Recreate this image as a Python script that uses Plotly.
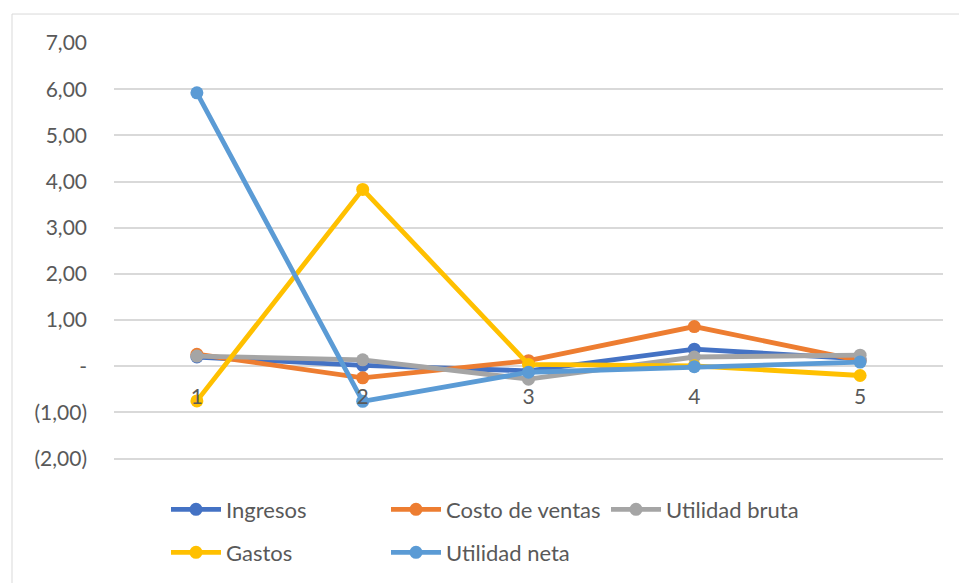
import plotly.graph_objects as go

periods = [1, 2, 3, 4, 5]
period_labels = ["1", "2", "3", "4", "5"]

ingresos = [0.20, 0.02, -0.10, 0.37, 0.16]
costo_ventas = [0.26, -0.25, 0.12, 0.86, 0.12]
utilidad_bruta = [0.22, 0.14, -0.28, 0.20, 0.24]
gastos = [-0.75, 3.83, 0.04, 0.01, -0.20]
utilidad_neta = [5.92, -0.76, -0.13, -0.01, 0.09]

series_names = ["Ingresos", "Costo de ventas", "Utilidad bruta", "Gastos", "Utilidad neta"]
series_values = [ingresos, costo_ventas, utilidad_bruta, gastos, utilidad_neta]
series_colors = ["#4472C4", "#ED7D31", "#A5A5A5", "#FFC000", "#5B9BD5"]
# first three series in the upper legend row, the rest in the lower one
series_legend = ["legend", "legend", "legend", "legend2", "legend2"]

y_ticks = [7, 6, 5, 4, 3, 2, 1, 0, -1, -2]
y_tick_labels = ["7,00", "6,00", "5,00", "4,00", "3,00", "2,00", "1,00", "-", "(1,00)", "(2,00)"]

FONT = "Lato"
TEXT_COLOR = "#595959"
GRID = "#D9D9D9"

# plot area in pixels (a little room below the lowest gridline so it is drawn)
PLOT_LEFT, PLOT_RIGHT, PLOT_TOP, PLOT_BOTTOM = 114, 943, 43, 460.4
PLOT_H = PLOT_BOTTOM - PLOT_TOP
PLOT_W = PLOT_RIGHT - PLOT_LEFT


def paper_y(py):
    return (PLOT_BOTTOM - py) / PLOT_H


def paper_x(px):
    return (px - PLOT_LEFT) / PLOT_W


fig = go.Figure()
for name, vals, col, lg in zip(series_names, series_values, series_colors, series_legend):
    fig.add_trace(go.Scatter(
        x=periods, y=vals, name=name, mode="lines+markers",
        line=dict(color=col, width=4.8),
        marker=dict(color=col, size=13),
        legend=lg,
    ))

legend_common = dict(
    orientation="h", xanchor="left", yanchor="middle",
    entrywidth=155, entrywidthmode="pixels",
    font=dict(family=FONT, size=22, color=TEXT_COLOR),
    itemwidth=50, bgcolor="rgba(0,0,0,0)",
)

y_min, y_max = -2.03, 7
fig.update_layout(
    width=959, height=583,
    margin=dict(l=PLOT_LEFT, r=959 - PLOT_RIGHT, t=PLOT_TOP, b=583 - PLOT_BOTTOM, autoexpand=False),
    paper_bgcolor="white", plot_bgcolor="white",
    font=dict(family=FONT, size=21, color=TEXT_COLOR),
    showlegend=True,
    legend=dict(x=paper_x(166), y=paper_y(510), **legend_common),
    legend2=dict(x=paper_x(166), y=paper_y(553), **legend_common),
    xaxis=dict(
        range=[0.5, 5.5], tickvals=periods, ticktext=period_labels,
        showgrid=False, zeroline=False, showline=False, ticks="",
        anchor="free", position=(0 - y_min) / (y_max - y_min),
        ticklabelstandoff=16,
        tickfont=dict(family=FONT, size=21, color=TEXT_COLOR),
    ),
    yaxis=dict(
        range=[y_min, y_max], tickvals=y_ticks, ticktext=y_tick_labels,
        showgrid=True, gridcolor=GRID, gridwidth=1.5,
        zeroline=False, showline=False, ticks="",
        ticklabelstandoff=26,
        tickfont=dict(family=FONT, size=21, color=TEXT_COLOR),
    ),
    shapes=[dict(
        type="rect", xref="paper", yref="paper",
        x0=paper_x(12), x1=1.2, y0=-0.5, y1=paper_y(14),
        line=dict(color=GRID, width=1), fillcolor="rgba(0,0,0,0)", layer="below",
    )],
)

fig.write_html("out.html")
